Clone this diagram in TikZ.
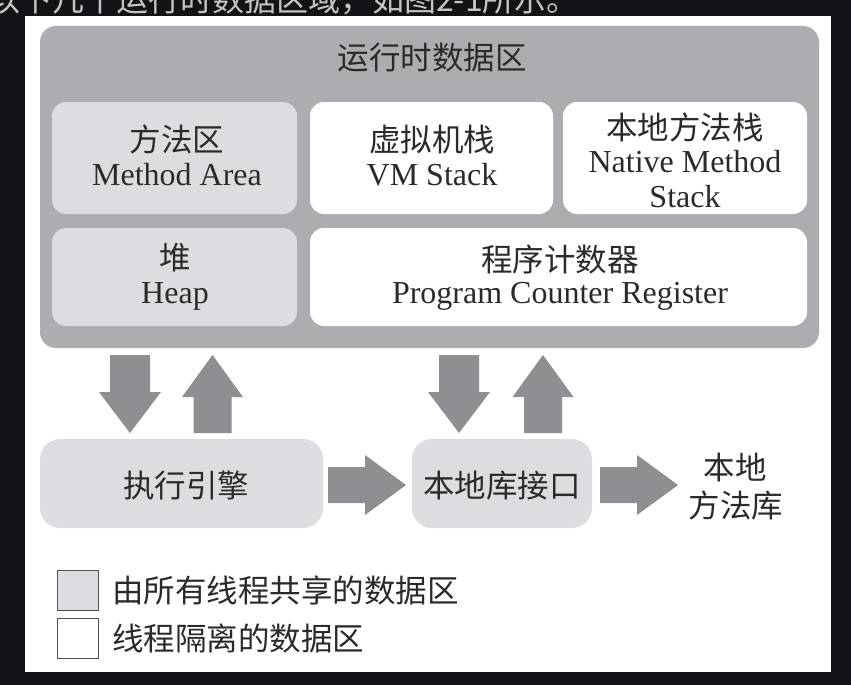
\documentclass[tikz,border=0pt]{standalone}
\usepackage{fontspec}
\setmainfont{Liberation Serif}
\newfontfamily\cjk{Noto Sans CJK SC}
\definecolor{bgdark}{HTML}{121316}
\definecolor{rtgray}{HTML}{ABADB0}
\definecolor{shared}{HTML}{DCDDE0}
\definecolor{arrowgray}{HTML}{8E8F93}
\definecolor{txt}{HTML}{2A2A2A}
\definecolor{toptxt}{HTML}{C4C4C6}
\definecolor{legendline}{HTML}{505050}
\begin{document}
\begin{tikzpicture}[x=1pt,y=-1pt,
  area/.style={rounded corners=14pt, inner sep=0pt, draw=none},
  sharedbox/.style={area, fill=shared},
  privbox/.style={area, fill=white},
  cn/.style={font=\cjk\fontsize{31.5}{31.5}\selectfont, text=txt, anchor=base, inner sep=0pt},
  en/.style={font=\fontsize{32}{32}\selectfont, text=txt, anchor=base, inner sep=0pt},
  legendbox/.style={draw=legendline, line width=1.4pt, minimum width=41pt, minimum height=40pt, inner sep=0pt},
  downblock/.pic={\fill[arrowgray] (-20,0) -- (20,0) -- (20,37) -- (31,37) -- (0,78) -- (-31,37) -- (-20,37) -- cycle;},
  upblock/.pic={\fill[arrowgray] (0,0) -- (30.5,42) -- (19,42) -- (19,78) -- (-19,78) -- (-19,42) -- (-30.5,42) -- cycle;},
  rightblock/.pic={\fill[arrowgray] (0,-18) -- (37,-18) -- (37,-30) -- (78,0) -- (37,30) -- (37,18) -- (0,18) -- cycle;}
]
\useasboundingbox (0,0) rectangle (851,685);
\clip (0,0) rectangle (851,685);
\fill[bgdark] (0,0) rectangle (851,685);
% cut-off line of text above the figure
\node[font=\cjk\fontsize{32}{32}\selectfont, text=toptxt, anchor=base west, inner sep=0pt] (topline) at (-12,12) {以下几个运行时数据区域，如图2-1所示。};
% white page
\fill[white] (25,16) rectangle (831,672);

% runtime data area
\node[area, fill=rtgray, rounded corners=16pt, minimum width=779pt, minimum height=322pt] (rt) at (429.5,187) {};
\node[cn] (rttitle) at (432,70) {运行时数据区};

\node[sharedbox, minimum width=245pt, minimum height=112pt] (method) at (174.5,158) {};
\node[privbox, minimum width=243pt, minimum height=112pt] (vm) at (431.5,158) {};
\node[privbox, minimum width=244pt, minimum height=112pt] (native) at (685,158) {};
\node[sharedbox, minimum width=245pt, minimum height=98pt] (heap) at (174.5,277) {};
\node[privbox, minimum width=497pt, minimum height=98pt] (pc) at (558.5,277) {};

\node[cn] (methodcn) at (177,151) {方法区};
\node[en] (methoden) at (177,185) {Method Area};
\node[cn] (vmcn) at (432,151) {虚拟机栈};
\node[en] (vmen) at (432,185) {VM Stack};
\node[cn] (nativecn) at (685,139) {本地方法栈};
\node[en] (nativeen) at (685,172) {Native Method};
\node[en] (nativeen2) at (685,207) {Stack};
\node[cn] (heapcn) at (175,269) {堆};
\node[en] (heapen) at (175,303) {Heap};
\node[cn] (pccn) at (560,271) {程序计数器};
\node[en] (pcen) at (560,303) {Program Counter Register};

% execution engine and native interface
\node[sharedbox, rounded corners=20pt, minimum width=283pt, minimum height=89pt] (exec) at (181.5,483.5) {};
\node[sharedbox, rounded corners=20pt, minimum width=180pt, minimum height=89pt] (nli) at (502,483.5) {};
\node[cn] (execcn) at (186,497) {执行引擎};
\node[cn] (nlicn) at (502,497) {本地库接口};
\node[cn] (libcn1) at (735,479) {本地};
\node[cn] (libcn2) at (736,517) {方法库};

% block arrows
\pic at (130,355) {downblock};
\pic at (212.5,355) {upblock};
\pic at (459,355) {downblock};
\pic at (543,355) {upblock};
\pic at (328,485) {rightblock};
\pic at (600,485) {rightblock};

% legend
\node[legendbox, fill=shared] (legshared) at (78,590.5) {};
\node[legendbox, fill=white] (legpriv) at (78,638.5) {};
\node[cn, anchor=base west] (legsharedtxt) at (112,602) {由所有线程共享的数据区};
\node[cn, anchor=base west] (legprivtxt) at (112,650) {线程隔离的数据区};
\end{tikzpicture}
\end{document}
